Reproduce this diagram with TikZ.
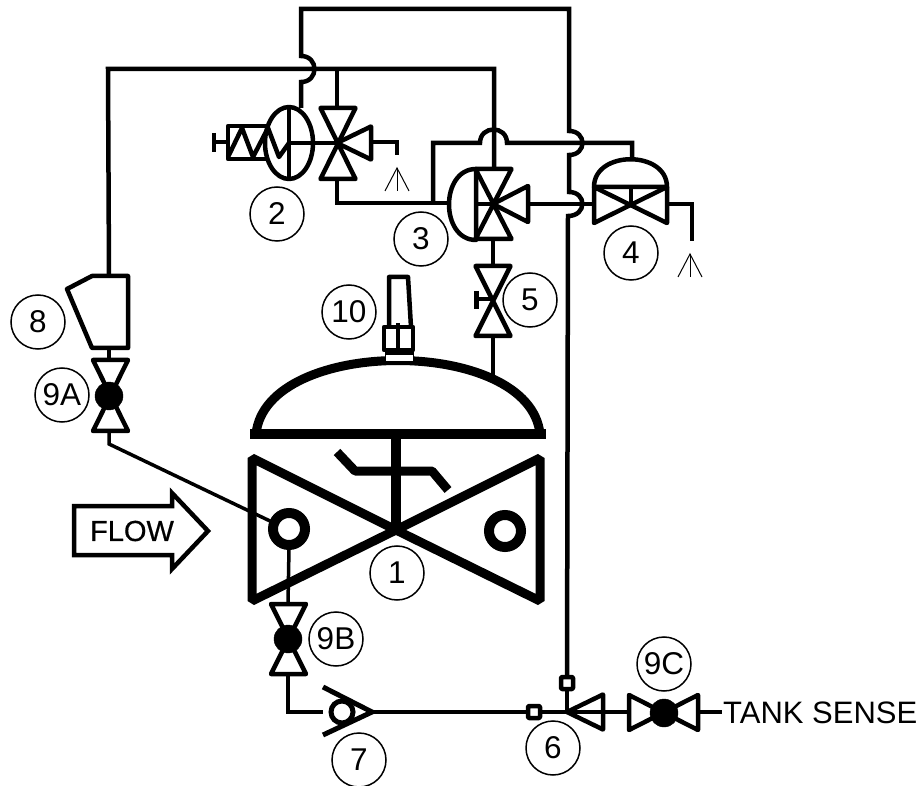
\documentclass[tikz,border=0pt]{standalone}
\usepackage{fontspec}
\setmainfont{Liberation Sans}
\newfontfamily\heavyfont{Liberation Sans}[FakeBold=0.6]
\def\bowtiev[#1](#2,#3)(#4:#5){\draw[#1] (#2-#4,#3-#5) -- (#2+#4,#3-#5) -- (#2-#4,#3+#5) -- (#2+#4,#3+#5) -- cycle;}
\def\bowtieh[#1](#2,#3)(#4:#5){\draw[#1] (#2-#4,#3-#5) -- (#2-#4,#3+#5) -- (#2+#4,#3-#5) -- (#2+#4,#3+#5) -- cycle;}
\def\sidetri[#1](#2,#3)(#4:#5){\draw[#1] (#2,#3) -- (#4,#3-#5) -- (#4,#3+#5) -- cycle;}
\def\venttip(#1,#2){\draw[vent] (#1-12,#2+23) -- (#1,#2) -- (#1+12,#2+23); \draw[vent] (#1,#2) -- (#1,#2+23);}
\tikzset{
	pipe/.style={line width=4.5pt},
	thinpipe/.style={line width=3.5pt},
	symbol/.style={line width=4.5pt, line join=round},
	heavy/.style={line width=9pt, line join=bevel},
	vent/.style={line width=1pt},
	callout/.style={draw, circle, line width=1.5pt, minimum size=54pt, inner sep=0pt, font=\fontsize{31.5}{32}\selectfont},
}

\begin{document}
\begin{tikzpicture}[x=1pt, y=-1pt]
	%%%%% START %%%%%
	\useasboundingbox (0, 0) rectangle (919, 786);
	
	% pipes
	\draw[pipe] (301, 108) -- (301, 82) .. controls (319, 82) and (319, 56) .. (301, 56) -- (301, 9) -- (569, 9) -- (569, 131) .. controls (587, 131) and (587, 155) .. (569, 155) -- (569, 192) .. controls (587, 192) and (587, 216) .. (568, 216) -- (567, 683);
	\draw[pipe] (109, 276) -- (108, 69) -- (494, 69) -- (494, 169);
	\draw[pipe] (337, 69) -- (337, 108);
	\draw[pipe] (337, 179) -- (337, 203) -- (450, 203);
	\draw[pipe] (433, 203) -- (433, 143) -- (480, 143) .. controls (480, 125) and (507, 125) .. (507, 143) -- (632, 143) -- (632, 160);
	\draw[pipe] (530, 204) -- (594, 204);
	\draw[pipe] (667, 204) -- (692, 204) -- (692, 241);
	\draw[pipe] (373, 142) -- (397, 142) -- (397, 155);
	\draw[pipe] (493, 239) -- (493, 266);
	\draw[thinpipe] (493, 336) -- (493, 378);
	\draw[pipe] (109, 348) -- (109, 360);
	\draw[thinpipe] (109, 431) -- (109, 444) -- (270, 521);
	\draw[thinpipe] (289, 548) -- (288, 604);
	\draw[thinpipe] (288, 674) -- (288, 712) -- (323, 712);
	\draw[thinpipe] (372, 712) -- (527, 712);
	\draw[pipe] (527, 712) -- (603, 712);
	\draw[pipe] (603, 712) -- (629, 712);
	\draw[pipe] (698, 712) -- (722, 712);
	\draw[pipe] (567, 690) -- (567, 712);
	
	% item 2
	\draw[symbol] (289, 143) ellipse (24 and 36);
	\draw[symbol] (289, 107) -- (289, 179);
	\draw[symbol] (289, 143) -- (337, 143);
	\draw[symbol] (268, 126) -- (228, 126) -- (228, 159) -- (268, 159);
	\draw[symbol] (228, 157) -- (242, 128) -- (253, 157) -- (268, 128) -- (279, 157) -- (289, 143);
	\draw[symbol] (214, 142) -- (228, 142);
	\draw[symbol] (214, 133) -- (214, 152);
	\bowtiev[symbol](338, 143.5)(17.5:35.5)
	\sidetri[symbol](337, 143)(371:16.5)
	\venttip(397, 168)
	
	% item 3
	\draw[symbol] (476, 169) .. controls (440, 169) and (440, 240) .. (476, 240) -- cycle;
	\draw[symbol] (476, 204) -- (493, 204);
	\bowtiev[symbol](493.5, 204)(18:35)
	\sidetri[symbol](493, 204)(528:18)
	
	% item 4
	\draw[symbol] (594, 187) .. controls (594, 150) and (667, 150) .. (667, 187) -- cycle;
	\bowtieh[symbol](630.5, 205)(36.5:18)
	\draw[symbol] (631, 187) -- (631, 204);
	\venttip(690, 254)
	
	% item 5
	\bowtiev[symbol](493, 301)(17.5:35)
	\draw[symbol] (476, 299) -- (493, 299);
	\draw[line width=5pt] (476, 291) -- (476, 309);
	
	% main valve
	\draw[line width=9pt] (256, 434) .. controls (266, 336) and (530, 336) .. (540, 434);
	\draw[line width=9pt] (250, 434) -- (546, 434);
	\draw[line width=10pt] (396, 434) -- (396, 530);
	\draw[heavy] (337, 452) -- (355, 471) -- (432, 471) -- (448, 490);
	\draw[heavy] (252, 458) -- (396, 530) -- (252, 601) -- cycle;
	\draw[heavy] (540, 458) -- (396, 530) -- (540, 601) -- cycle;
	\draw[line width=10pt] (289, 529) circle (16);
	\draw[line width=10pt] (505, 531) circle (16);
	
	% item 10
	\draw[fill=white, draw=black, line width=1pt] (385, 351) rectangle (413, 362);
	\draw[fill=black] (385, 350) rectangle (413, 354);
	\draw[symbol] (389, 327) -- (389, 277) -- (408, 277) -- (411, 327);
	\draw[symbol] (384, 327) rectangle (413, 350);
	\draw[symbol] (398, 323) -- (398, 350);
	
	% item 8
	\draw[symbol] (67, 289) -- (92, 276) -- (128, 276) -- (128, 348) -- (92, 348) -- cycle;
	
	% items 9
	\bowtiev[symbol](110.5, 395.5)(17.5:35.5)
	\draw[fill=black] (109, 396) circle (14);
	\bowtiev[symbol](288.5, 639)(17.5:35)
	\draw[fill=black] (288, 639) circle (14);
	\bowtieh[symbol](663.5, 712.5)(34.5:17.5)
	\draw[fill=black] (664, 713) circle (14);
	
	% item 7
	\draw[line width=5pt] (323, 687) -- (372, 712) -- (323, 735);
	\draw[line width=5pt, fill=white] (342, 712) circle (11);
	
	% item 6
	\sidetri[symbol](567, 712)(603:17.5)
	\draw[symbol, fill=white, rounded corners=1pt] (528, 706) rectangle (540, 718);
	\draw[symbol, fill=white, rounded corners=1pt] (561, 677) rectangle (573, 689);
	
	% flow arrow
	\draw[symbol, line join=miter] (74, 506) -- (172, 506) -- (172, 493) -- (208, 531) -- (172, 569) -- (172, 555) -- (74, 555) -- cycle;
	\node[font=\heavyfont\fontsize{29}{29}\selectfont] (flow) at (132, 531) {FLOW};
	\node[font=\fontsize{31}{31}\selectfont, anchor=west, inner sep=0pt] (tanksense) at (723, 713) {TANK SENSE};
	
	% callouts
	\node[callout] (item1) at (397, 573) {1};
	\node[callout] (item2) at (277, 214) {2};
	\node[callout] (item3) at (421, 239) {3};
	\node[callout] (item4) at (631, 253) {4};
	\node[callout] (item5) at (530, 300) {5};
	\node[callout] (item6) at (553, 748) {6};
	\node[callout] (item7) at (359, 760) {7};
	\node[callout] (item8) at (38, 322) {8};
	\node[callout] (item9a) at (62, 395) {9A};
	\node[callout] (item9b) at (336, 639) {9B};
	\node[callout] (item9c) at (664, 664) {9C};
	\node[callout] (item10) at (349, 312) {10};
	
	%%%%% END %%%%%
\end{tikzpicture}
\end{document}
